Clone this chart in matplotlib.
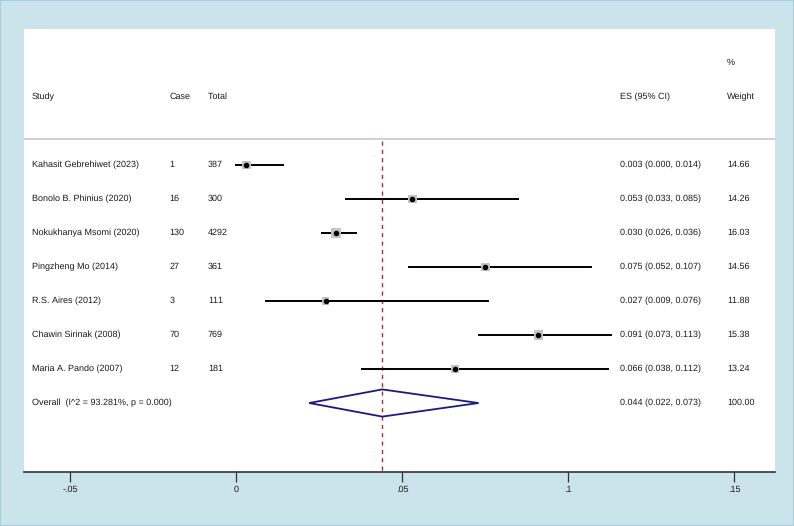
"""
Forest plot of pooled prevalence (Stata metaprop style).
"""

import numpy as np
import matplotlib.pyplot as plt
from matplotlib.patches import Polygon, Rectangle

plt.rcParams['font.family'] = ['Liberation Sans', 'DejaVu Sans']
plt.rcParams['text.hinting'] = 'no_hinting'
plt.rcParams['text.hinting_factor'] = 1

studies = ['Kahasit Gebrehiwet (2023)', 'Bonolo B. Phinius (2020)',
           'Nokukhanya Msomi (2020)', 'Pingzheng Mo (2014)',
           'R.S. Aires (2012)', 'Chawin Sirinak (2008)', 'Maria A. Pando (2007)']
cases = [1, 16, 130, 27, 3, 70, 12]
totals = [387, 300, 4292, 361, 111, 769, 181]
es = [0.003, 0.053, 0.030, 0.075, 0.027, 0.091, 0.066]
ci_low = [0.000, 0.033, 0.026, 0.052, 0.009, 0.073, 0.038]
ci_high = [0.014, 0.085, 0.036, 0.107, 0.076, 0.113, 0.112]
weights = [14.66, 14.26, 16.03, 14.56, 11.88, 15.38, 13.24]

overall_label = 'Overall  (I^2 = 93.281%, p = 0.000)'
overall_es, overall_low, overall_high = 0.044, 0.022, 0.073
overall_weight = 100.00

xticks = [-0.05, 0, 0.05, 0.1, 0.15]
xticklabels = ['-.05', '0', '.05', '.1', '.15']

bg = '#cbe4ec'
txt = '#1a1a1a'
fs = 6.6

fig = plt.figure(figsize=(7.94, 5.26), dpi=100)
fig.patch.set_facecolor(bg)
fig.patches.append(Rectangle((0, 0), 1, 1, transform=fig.transFigure,
                             fill=False, edgecolor='#a9cfdc', lw=1.5))

ax = fig.add_axes([24/794, 1 - 471.7/526, 751/794, (471.7 - 29)/526])
ax.set_facecolor('white')
ax.set_xlim(-0.0639, 0.1623)
ax.set_ylim(9.02, -4.0)

for s in ['top', 'left', 'right']:
    ax.spines[s].set_visible(False)
ax.spines['bottom'].set_color('#333333')
ax.spines['bottom'].set_linewidth(1.2)
ax.set_yticks([])
ax.set_xticks(xticks)
ax.set_xticklabels(xticklabels)
ax.tick_params(axis='x', length=7, width=0.9, color='#333333',
               labelsize=fs, labelcolor=txt, pad=3)

# column positions (data x)
x_study, x_case, x_total = -0.0615, -0.0200, -0.0085
x_es, x_wt = 0.1157, 0.1478

# header
ax.text(x_study, -2, 'Study', fontsize=fs, color=txt, va='center')
ax.text(x_case, -2, 'Case', fontsize=fs, color=txt, va='center')
ax.text(x_total, -2, 'Total', fontsize=fs, color=txt, va='center')
ax.text(x_es, -2, 'ES (95% CI)', fontsize=fs, color=txt, va='center')
ax.text(x_wt, -3, '%', fontsize=fs, color=txt, va='center')
ax.text(x_wt, -2, 'Weight', fontsize=fs, color=txt, va='center')
ax.axhline(-0.756, color='#c8c8c8', lw=1.2)

# overall line
ax.plot([overall_es, overall_es], [-0.70, 9.02], color='#a03535', lw=1,
        ls=(0, (3, 3)), zorder=1)

rows = np.arange(len(studies))
for i in rows:
    ax.plot([ci_low[i], ci_high[i]], [i, i], color='black', lw=1.4, zorder=2)
    k = weights[i] / 14.5
    half_w = 0.00135 * k
    half_h = 0.13 * k
    ax.add_patch(Rectangle((es[i] - half_w, i - half_h), 2 * half_w, 2 * half_h,
                           facecolor='#c4c4c4', edgecolor='none', zorder=3))
    ax.plot(es[i], i, 'o', color='black', ms=3, zorder=4)
    ax.text(x_study, i, studies[i], fontsize=fs, color=txt, va='center')
    ax.text(x_case, i, str(cases[i]), fontsize=fs, color=txt, va='center')
    ax.text(x_total, i, str(totals[i]), fontsize=fs, color=txt, va='center')
    ax.text(x_es, i, f'{es[i]:.3f} ({ci_low[i]:.3f}, {ci_high[i]:.3f})',
            fontsize=fs, color=txt, va='center')
    ax.text(x_wt, i, f'{weights[i]:.2f}', fontsize=fs, color=txt, va='center')

yo = len(studies)
ax.add_patch(Polygon([[overall_low, yo], [overall_es, yo - 0.4],
                      [overall_high, yo], [overall_es, yo + 0.4]],
                     closed=True, fill=False, edgecolor='#1a1a80', lw=1.3,
                     zorder=3))
ax.text(x_study, yo, overall_label, fontsize=fs, color=txt, va='center')
ax.text(x_es, yo, f'{overall_es:.3f} ({overall_low:.3f}, {overall_high:.3f})',
        fontsize=fs, color=txt, va='center')
ax.text(x_wt, yo, f'{overall_weight:.2f}', fontsize=fs, color=txt, va='center')

plt.savefig('out.png', dpi=100, facecolor=bg)
